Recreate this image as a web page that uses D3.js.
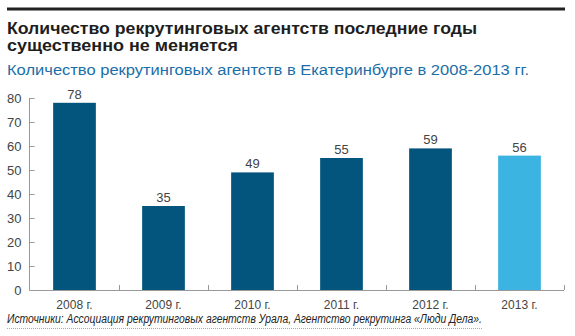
<!DOCTYPE html>
<html>
<head>
<meta charset="utf-8">
<script src="https://cdn.jsdelivr.net/npm/d3@7"></script>
<style>
  body { margin: 0; background: #fff; }
  svg text { font-family: "Liberation Sans", Arial, sans-serif; }
</style>
</head>
<body>
<div id="graph"></div>
<script>
var years = ["2008 г.", "2009 г.", "2010 г.", "2011 г.", "2012 г.", "2013 г."];
var agencies = [78, 35, 49, 55, 59, 56];
var barColors = ["#04557d", "#04557d", "#04557d", "#04557d", "#04557d", "#3cb4e1"];
var yTicks = [0, 10, 20, 30, 40, 50, 60, 70, 80];

var titleLines = ["Количество рекрутинговых агентств последние годы", "существенно не меняется"];
var subtitle = "Количество рекрутинговых агентств в Екатеринбурге в 2008-2013 гг.";
var source = "Источники: Ассоциация рекрутинговых агентств Урала, Агентство рекрутинга «Люди Дела».";

var width = 575, height = 336;
// plot area (window.top is reserved, so plot* names)
var plotLeft = 30, plotRight = 564, plotTop = 98, plotBottom = 290;

var svg = d3.select("#graph").append("svg")
    .attr("width", width)
    .attr("height", height);

// heading rule
svg.append("line")
    .attr("x1", 7).attr("x2", 565)
    .attr("y1", 9).attr("y2", 9)
    .attr("stroke", "#222")
    .attr("stroke-width", 3);

svg.append("text")
    .attr("x", 7).attr("y", 34)
    .attr("font-size", 16).attr("font-weight", "bold").attr("fill", "#1e1e1e")
    .attr("textLength", 470).attr("lengthAdjust", "spacingAndGlyphs")
    .text(titleLines[0]);
svg.append("text")
    .attr("x", 7).attr("y", 51)
    .attr("font-size", 16).attr("font-weight", "bold").attr("fill", "#1e1e1e")
    .attr("textLength", 231).attr("lengthAdjust", "spacingAndGlyphs")
    .text(titleLines[1]);

svg.append("text")
    .attr("x", 7).attr("y", 75)
    .attr("font-size", 14).attr("fill", "#1b6ea8")
    .attr("textLength", 522).attr("lengthAdjust", "spacingAndGlyphs")
    .text(subtitle);

var x = d3.scaleBand()
    .domain(years)
    .range([plotLeft, plotRight])
    .paddingInner(0.52)
    .paddingOuter(0.26);

var y = d3.scaleLinear()
    .domain([0, 80])
    .range([plotBottom, plotTop]);

var yAxis = svg.append("g")
    .attr("transform", "translate(" + (plotLeft - 0.5) + ",0)")
    .call(d3.axisLeft(y).tickValues(yTicks).tickSize(-5).tickPadding(8));
yAxis.selectAll("path, line").attr("stroke", "#999");
yAxis.select(".domain").attr("d", "M0," + plotTop + "V" + plotBottom);
yAxis.selectAll("text")
    .attr("font-size", 13).attr("fill", "#444")
    .style("font-family", "'Liberation Sans', Arial, sans-serif");

svg.selectAll(".bar")
    .data(agencies)
    .enter().append("rect")
    .attr("class", "bar")
    .attr("x", function(d, i) { return x(years[i]); })
    .attr("y", function(d) { return y(d); })
    .attr("width", x.bandwidth())
    .attr("height", function(d) { return y(0) - y(d); })
    .attr("fill", function(d, i) { return barColors[i]; });

svg.selectAll(".val")
    .data(agencies)
    .enter().append("text")
    .attr("class", "val")
    .attr("x", function(d, i) { return x(years[i]) + x.bandwidth() / 2; })
    .attr("y", function(d) { return y(d) - 4; })
    .attr("text-anchor", "middle")
    .attr("font-size", 13).attr("fill", "#444")
    .text(function(d) { return d; });

// x axis: labels under bars, ticks between categories
var xAxis = svg.append("g")
    .attr("transform", "translate(0," + (plotBottom + 0.5) + ")")
    .call(d3.axisBottom(x).tickSize(0).tickPadding(10));
xAxis.select(".domain").attr("stroke", "#999").attr("d", "M" + (plotLeft - 0.5) + ",0H" + plotRight);
xAxis.selectAll("text")
    .attr("font-size", 12).attr("fill", "#444")
    .style("font-family", "'Liberation Sans', Arial, sans-serif");

svg.selectAll(".sep")
    .data(years)
    .enter().append("line")
    .attr("class", "sep")
    .attr("x1", function(d) { return Math.round(x(d) + x.bandwidth() / 2 + x.step() / 2) + 0.5; })
    .attr("x2", function(d) { return Math.round(x(d) + x.bandwidth() / 2 + x.step() / 2) + 0.5; })
    .attr("y1", plotBottom - 5).attr("y2", plotBottom)
    .attr("stroke", "#999");

svg.append("text")
    .attr("x", 7).attr("y", 323)
    .attr("font-size", 12).attr("font-style", "italic").attr("fill", "#222")
    .attr("textLength", 475).attr("lengthAdjust", "spacingAndGlyphs")
    .text(source);

svg.append("line")
    .attr("x1", 7).attr("x2", 482)
    .attr("y1", 328.5).attr("y2", 328.5)
    .attr("stroke", "#aaa")
    .attr("stroke-dasharray", "1,1");
</script>
</body>
</html>
